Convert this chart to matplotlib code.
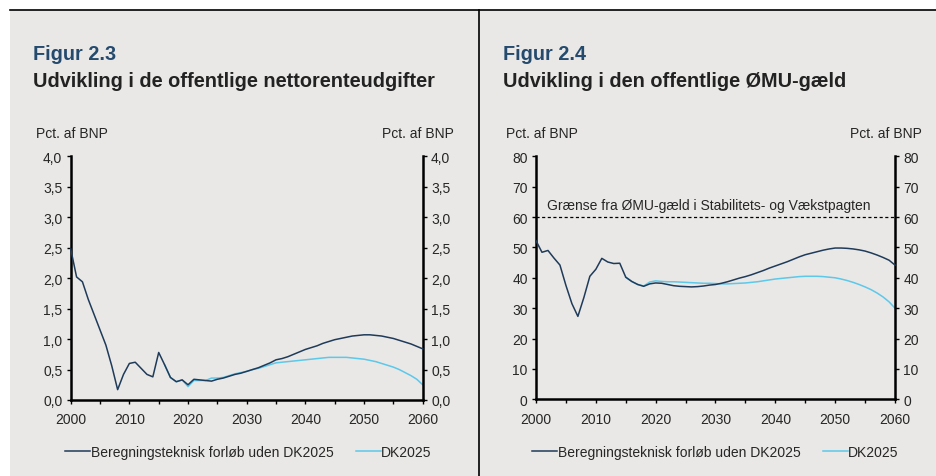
import matplotlib.pyplot as plt
from matplotlib.patches import Rectangle
from matplotlib.lines import Line2D

plt.rcParams['font.family'] = ['Liberation Sans', 'DejaVu Sans']

years = list(range(2000, 2061))

# Figur 2.3 - nettorenteudgifter, pct. af BNP
rente_uden = [2.48, 2.02, 1.94, 1.65, 1.40, 1.15, 0.90, 0.56, 0.17, 0.42,
              0.60, 0.62, 0.52, 0.42, 0.38, 0.78, 0.58, 0.37, 0.30, 0.33,
              0.25, 0.34, 0.33, 0.32, 0.31, 0.34, 0.36, 0.39, 0.42, 0.44,
              0.47, 0.50, 0.53, 0.57, 0.61, 0.66, 0.68, 0.71, 0.75, 0.79,
              0.83, 0.86, 0.89, 0.93, 0.96, 0.99, 1.01, 1.03, 1.05, 1.06,
              1.07, 1.07, 1.06, 1.05, 1.03, 1.01, 0.98, 0.95, 0.92, 0.88,
              0.84]
years_dk_rente = list(range(2016, 2061))
rente_dk = [0.58, 0.37, 0.30, 0.33, 0.22, 0.32, 0.32, 0.32, 0.36, 0.36,
            0.37, 0.40, 0.43, 0.45, 0.47, 0.50, 0.52, 0.55, 0.58, 0.61,
            0.62, 0.63, 0.64, 0.65, 0.66, 0.67, 0.68, 0.69, 0.70, 0.70,
            0.70, 0.70, 0.69, 0.68, 0.67, 0.65, 0.63, 0.60, 0.57, 0.54,
            0.50, 0.45, 0.40, 0.34, 0.25]

# Figur 2.4 - ØMU-gæld, pct. af BNP
gaeld_uden = [52.2, 48.4, 49.0, 46.5, 44.2, 37.5, 31.5, 27.3, 33.5, 40.5,
              42.8, 46.4, 45.2, 44.7, 44.8, 40.2, 38.8, 37.8, 37.2, 38.0,
              38.3, 38.2, 37.8, 37.4, 37.2, 37.1, 37.0, 37.1, 37.3, 37.6,
              37.8, 38.2, 38.7, 39.3, 39.9, 40.4, 41.0, 41.7, 42.4, 43.2,
              43.9, 44.6, 45.3, 46.1, 46.9, 47.6, 48.1, 48.6, 49.1, 49.5,
              49.8, 49.8, 49.7, 49.5, 49.2, 48.8, 48.2, 47.5, 46.7, 45.8,
              44.2]
years_dk_gaeld = list(range(2015, 2061))
gaeld_dk = [40.2, 38.8, 37.8, 37.3, 38.6, 39.0, 38.8, 38.7, 38.7, 38.6,
            38.5, 38.4, 38.3, 38.2, 38.2, 38.1, 38.0, 38.0, 38.1, 38.2,
            38.3, 38.5, 38.7, 39.0, 39.3, 39.6, 39.8, 40.0, 40.2, 40.4,
            40.5, 40.5, 40.5, 40.4, 40.2, 40.0, 39.6, 39.1, 38.5, 37.8,
            37.0, 36.1, 35.0, 33.7, 32.1, 30.0]
graense = 60

bg = '#e9e8e6'
dark = '#1f3b5a'
light = '#5cc8ea'
txt = '#262626'

W, H = 936, 477
fig = plt.figure(figsize=(W / 100, H / 100), dpi=100, facecolor='white')

def fx(px):
    return px / W

def fy(py):
    return 1 - py / H

fig.patches.append(Rectangle((fx(10), 0), 1 - fx(10), fy(10.5), transform=fig.transFigure,
                             facecolor=bg, edgecolor='none', zorder=-10))
fig.add_artist(Line2D([fx(10), 1], [fy(10.5), fy(10.5)], color='black', lw=1.2, transform=fig.transFigure))
fig.add_artist(Line2D([fx(479.3), fx(479.3)], [0, fy(10.5)], color='black', lw=1.2, transform=fig.transFigure))


def setup(ax, ymax, ystep, fmt):
    ax.set_facecolor(bg)
    ax.set_xlim(2000, 2060)
    ax.set_ylim(0, ymax)
    ax.set_xticks(range(2000, 2061, 10))
    ax.set_xticks(range(2000, 2061, 5), minor=True)
    yt = [i * ystep for i in range(int(round(ymax / ystep)) + 1)]
    ax.set_yticks(yt)
    ax.set_yticklabels([fmt(v) for v in yt])
    for s in ['left', 'right', 'bottom']:
        ax.spines[s].set_linewidth(1.8)
        ax.spines[s].set_color('black')
    ax.spines['top'].set_visible(False)
    ax.tick_params(axis='x', which='both', direction='out', length=3, width=1, pad=6,
                   labelsize=10, labelcolor=txt)
    ax.tick_params(axis='y', direction='out', length=3, width=1, pad=3,
                   labelsize=10, labelcolor=txt)
    axr = ax.twinx()
    axr.set_ylim(0, ymax)
    axr.set_yticks(yt)
    axr.set_yticklabels([fmt(v) for v in yt])
    axr.tick_params(axis='y', direction='out', length=3, width=1, pad=3,
                    labelsize=10, labelcolor=txt)
    for s in axr.spines.values():
        s.set_visible(False)


ax1 = fig.add_axes([fx(70.7), fy(401), fx(422.7 - 70.7), fy(157.3) - fy(401)])
setup(ax1, 4.0, 0.5, lambda v: f'{v:.1f}'.replace('.', ','))
ax1.plot(years, rente_uden, color=dark, lw=1.1, zorder=3, clip_on=False)
ax1.plot(years_dk_rente, rente_dk, color=light, lw=1.1, zorder=2, clip_on=False)

ax2 = fig.add_axes([fx(536), fy(400.3), fx(895 - 536), fy(157.3) - fy(400.3)])
setup(ax2, 80, 10, lambda v: f'{v:.0f}')
ax2.plot(years, gaeld_uden, color=dark, lw=1.1, zorder=3, clip_on=False)
ax2.plot(years_dk_gaeld, gaeld_dk, color=light, lw=1.1, zorder=2, clip_on=False)
ax2.axhline(graense, color='black', lw=0.9, ls=(0, (2.5, 2)), zorder=1)
ax2.text(2001.8, 64, 'Grænse fra ØMU-gæld i Stabilitets- og Vækstpagten',
         fontsize=10, color=txt, va='center', ha='left')

# titles and unit labels
for x0, num, title, xr in [(33, 'Figur 2.3', 'Udvikling i de offentlige nettorenteudgifter', 454),
                           (503, 'Figur 2.4', 'Udvikling i den offentlige ØMU-gæld', 922)]:
    fig.text(fx(x0), fy(60), num, fontsize=14.3, fontweight='bold', color='#244a6e',
             ha='left', va='baseline')
    fig.text(fx(x0), fy(87), title, fontsize=14.3, fontweight='bold', color='#222222',
             ha='left', va='baseline')
    fig.text(fx(x0 + 3), fy(138), 'Pct. af BNP', fontsize=10, color=txt, ha='left', va='baseline')
    fig.text(fx(xr), fy(138), 'Pct. af BNP', fontsize=10, color=txt, ha='right', va='baseline')

handles = [Line2D([], [], color=dark, lw=1.1), Line2D([], [], color=light, lw=1.1)]
labels = ['Beregningsteknisk forløb uden DK2025', 'DK2025']
for x0 in [65, 532]:
    fig.legend(handles, labels, loc='center left', bbox_to_anchor=(fx(x0), fy(453)),
               ncol=2, frameon=False, fontsize=10, handlelength=1.8, handletextpad=0.05,
               columnspacing=1.6, borderpad=0, borderaxespad=0, labelcolor=txt)

fig.savefig('out.png', dpi=100, facecolor='white')
